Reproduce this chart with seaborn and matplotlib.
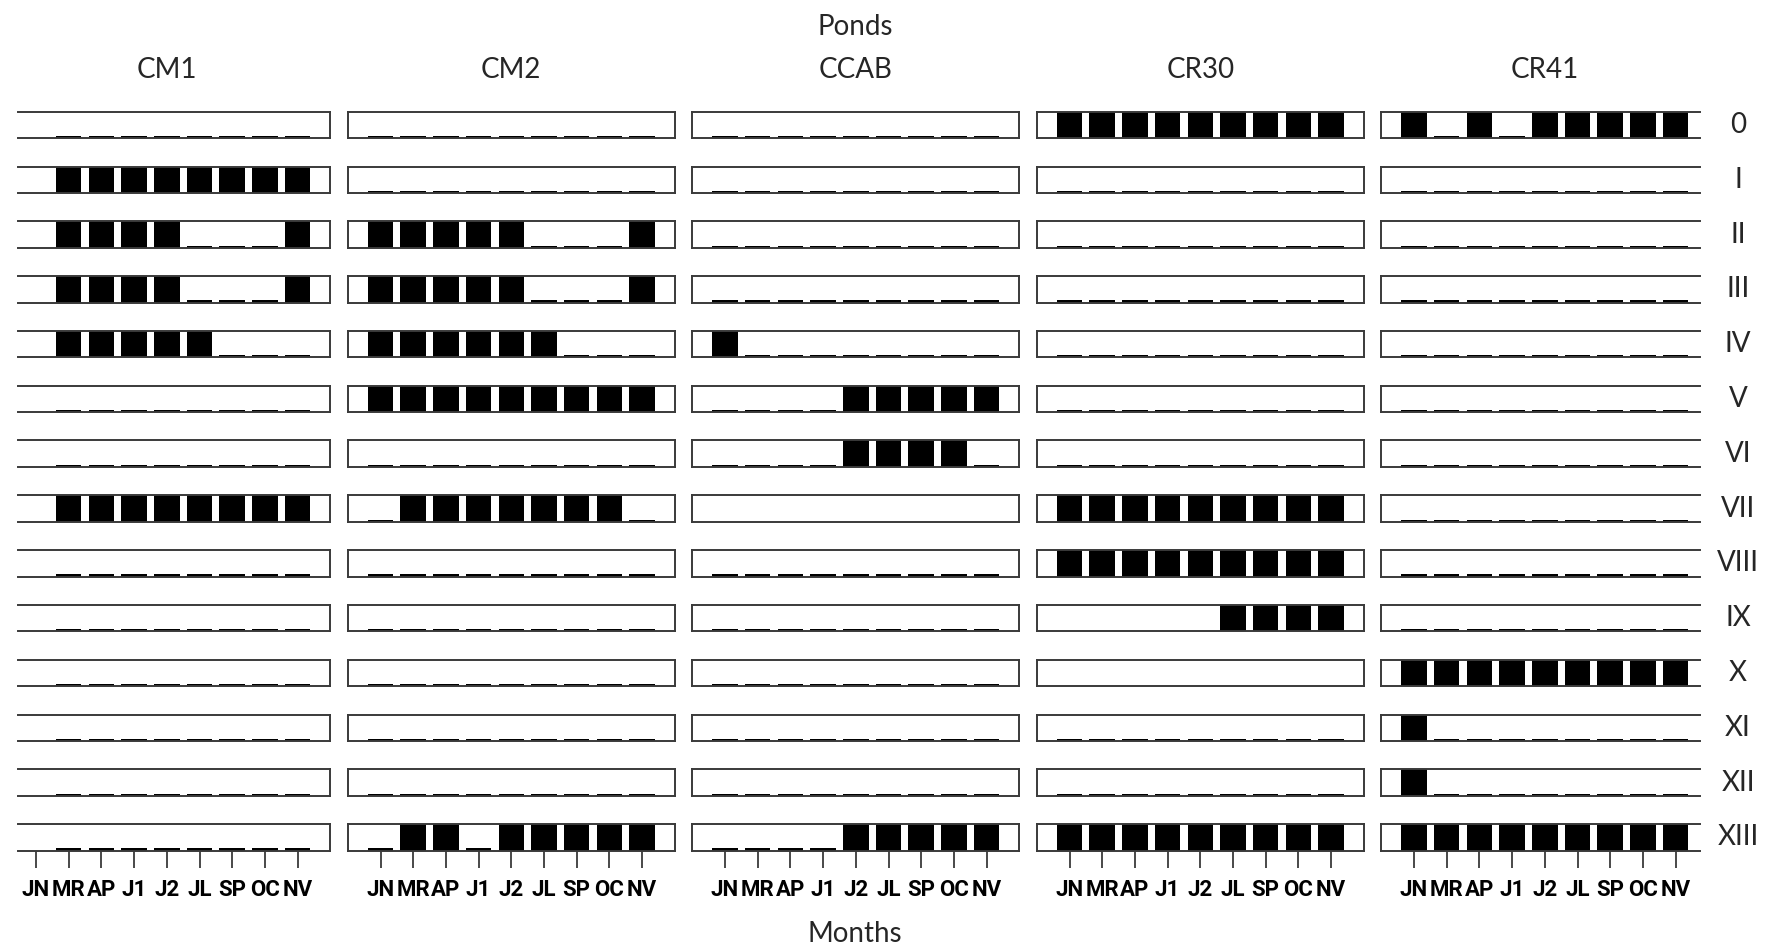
import numpy as np
import pandas as pd
import matplotlib
matplotlib.use("Agg")
import matplotlib.pyplot as plt
import seaborn as sns

sns.set_theme(style="white")
plt.rcParams["font.family"] = ["Lato", "DejaVu Sans"]
TICK_FAMILY = ["Roboto", "DejaVu Sans"]

N = np.nan
MONTHS = ["JN", "MR", "AP", "J1", "J2", "JL", "SP", "OC", "NV"]
ROWS = ["0", "I", "II", "III", "IV", "V", "VI", "VII", "VIII", "IX", "X", "XI", "XII", "XIII"]
PONDS = ["CM1", "CM2", "CCAB", "CR30", "CR41"]

# 1 = present (black bar), 0 = absent (small stub), NaN = no record
CM1 = [
    [N, 0, 0, 0, 0, 0, 0, 0, 0],
    [N, 1, 1, 1, 1, 1, 1, 1, 1],
    [N, 1, 1, 1, 1, 0, 0, 0, 1],
    [N, 1, 1, 1, 1, 0, 0, 0, 1],
    [N, 1, 1, 1, 1, 1, 0, 0, 0],
    [N, 0, 0, 0, 0, 0, 0, 0, 0],
    [N, 0, 0, 0, 0, 0, 0, 0, 0],
    [N, 1, 1, 1, 1, 1, 1, 1, 1],
    [N, 0, 0, 0, 0, 0, 0, 0, 0],
    [N, 0, 0, 0, 0, 0, 0, 0, 0],
    [N, 0, 0, 0, 0, 0, 0, 0, 0],
    [N, 0, 0, 0, 0, 0, 0, 0, 0],
    [N, 0, 0, 0, 0, 0, 0, 0, 0],
    [N, 0, 0, 0, 0, 0, 0, 0, 0],
]
CM2 = [
    [0, 0, 0, 0, 0, 0, 0, 0, 0],
    [0, 0, 0, 0, 0, 0, 0, 0, 0],
    [1, 1, 1, 1, 1, 0, 0, 0, 1],
    [1, 1, 1, 1, 1, 0, 0, 0, 1],
    [1, 1, 1, 1, 1, 1, 0, 0, 0],
    [1, 1, 1, 1, 1, 1, 1, 1, 1],
    [0, 0, 0, 0, 0, 0, 0, 0, 0],
    [0, 1, 1, 1, 1, 1, 1, 1, 0],
    [0, 0, 0, 0, 0, 0, 0, 0, 0],
    [0, 0, 0, 0, 0, 0, 0, 0, 0],
    [0, 0, 0, 0, 0, 0, 0, 0, 0],
    [0, 0, 0, 0, 0, 0, 0, 0, 0],
    [0, 0, 0, 0, 0, 0, 0, 0, 0],
    [0, 1, 1, 0, 1, 1, 1, 1, 1],
]
CCAB = [
    [0, 0, 0, 0, 0, 0, 0, 0, 0],
    [0, 0, 0, 0, 0, 0, 0, 0, 0],
    [0, 0, 0, 0, 0, 0, 0, 0, 0],
    [0, 0, 0, 0, 0, 0, 0, 0, 0],
    [1, 0, 0, 0, 0, 0, 0, 0, 0],
    [0, 0, 0, 0, 1, 1, 1, 1, 1],
    [0, 0, 0, 0, 1, 1, 1, 1, 0],
    [N, N, N, N, N, N, N, N, N],
    [0, 0, 0, 0, 0, 0, 0, 0, 0],
    [0, 0, 0, 0, 0, 0, 0, 0, 0],
    [0, 0, 0, 0, 0, 0, 0, 0, 0],
    [0, 0, 0, 0, 0, 0, 0, 0, 0],
    [0, 0, 0, 0, 0, 0, 0, 0, 0],
    [0, 0, 0, 0, 1, 1, 1, 1, 1],
]
CR30 = [
    [1, 1, 1, 1, 1, 1, 1, 1, 1],
    [0, 0, 0, 0, 0, 0, 0, 0, 0],
    [0, 0, 0, 0, 0, 0, 0, 0, 0],
    [0, 0, 0, 0, 0, 0, 0, 0, 0],
    [0, 0, 0, 0, 0, 0, 0, 0, 0],
    [0, 0, 0, 0, 0, 0, 0, 0, 0],
    [0, 0, 0, 0, 0, 0, 0, 0, 0],
    [1, 1, 1, 1, 1, 1, 1, 1, 1],
    [1, 1, 1, 1, 1, 1, 1, 1, 1],
    [N, N, N, N, N, 1, 1, 1, 1],
    [N, N, N, N, N, N, N, N, N],
    [0, 0, 0, 0, 0, 0, 0, 0, 0],
    [0, 0, 0, 0, 0, 0, 0, 0, 0],
    [1, 1, 1, 1, 1, 1, 1, 1, 1],
]
CR41 = [
    [1, 0, 1, 0, 1, 1, 1, 1, 1],
    [0, 0, 0, 0, 0, 0, 0, 0, 0],
    [0, 0, 0, 0, 0, 0, 0, 0, 0],
    [0, 0, 0, 0, 0, 0, 0, 0, 0],
    [0, 0, 0, 0, 0, 0, 0, 0, 0],
    [0, 0, 0, 0, 0, 0, 0, 0, 0],
    [0, 0, 0, 0, 0, 0, 0, 0, 0],
    [0, 0, 0, 0, 0, 0, 0, 0, 0],
    [0, 0, 0, 0, 0, 0, 0, 0, 0],
    [0, 0, 0, 0, 0, 0, 0, 0, 0],
    [1, 1, 1, 1, 1, 1, 1, 1, 1],
    [1, 0, 0, 0, 0, 0, 0, 0, 0],
    [1, 0, 0, 0, 0, 0, 0, 0, 0],
    [1, 1, 1, 1, 1, 1, 1, 1, 1],
]
DATA = {"CM1": CM1, "CM2": CM2, "CCAB": CCAB, "CR30": CR30, "CR41": CR41}

# ---- layout (pixels) ----
W, H = 1767, 948
STEP = 32.7          # pixels per month
COL_JN = 36.0        # x of JN in first panel
COL_STEP = 344.5
ROW_TOP = 111.7
ROW_STEP = 54.8
BOX_H = 26.5
STUB = 0.08
SPINE = "#3a3a3a"

fig = plt.figure(figsize=(W / 100, H / 100), dpi=100)


def add_ax(left, top, width, height):
    return fig.add_axes([left / W, 1 - (top + height) / H, width / W, height / H])


for c, pond in enumerate(PONDS):
    jn = COL_JN + c * COL_STEP
    if c == 0:
        xl, xr = -0.55, 9.0
    elif c == len(PONDS) - 1:
        xl, xr = -1.0, 8.74
    else:
        xl, xr = -1.0, 9.0
    for r, row in enumerate(ROWS):
        top = ROW_TOP + r * ROW_STEP
        ax = add_ax(jn + xl * STEP, top, (xr - xl) * STEP, BOX_H)
        vals = np.array(DATA[pond][r], dtype=float)
        heights = np.where(vals == 1, 1.0, np.where(vals == 0, STUB, np.nan))
        df = pd.DataFrame({"month": MONTHS, "h": heights})
        if np.isfinite(heights).any():
            sns.barplot(data=df.dropna(), x="month", y="h", order=MONTHS, color="black",
                        saturation=1, width=0.78, errorbar=None, ax=ax, linewidth=0)
        ax.set_xlim(xl, xr)
        ax.set_ylim(0, 1)
        ax.set_xlabel("")
        ax.set_ylabel("")
        ax.set_yticks([])
        for s in ax.spines.values():
            s.set_color(SPINE)
            s.set_linewidth(1.4)
            s.set_visible(True)
        if c == 0:
            ax.spines["left"].set_visible(False)
        if c == len(PONDS) - 1:
            ax.spines["right"].set_visible(False)
        if r == len(ROWS) - 1:
            ax.set_xticks(range(len(MONTHS)))
            ax.set_xticklabels(MONTHS, fontweight="bold", fontsize=16, color="black",
                               family=TICK_FAMILY)
            ax.tick_params(axis="x", bottom=True, direction="out", length=12.5, width=1.3,
                           color=SPINE, pad=8)
        else:
            ax.set_xticks([])
        ax.patch.set_alpha(0)

    # pond title
    fig.text((jn + 4 * STEP) / W, 1 - 70 / H, pond, ha="center", va="center", fontsize=20)

# row labels
for r, row in enumerate(ROWS):
    fig.text(1738 / W, 1 - (ROW_TOP + r * ROW_STEP + BOX_H / 2) / H, row,
             ha="center", va="center", fontsize=20)

fig.text(855 / W, 1 - 27 / H, "Ponds", ha="center", va="center", fontsize=20)
fig.text(855 / W, 1 - 934 / H, "Months", ha="center", va="center", fontsize=20)

fig.savefig("out.png", dpi=100, facecolor="white")
